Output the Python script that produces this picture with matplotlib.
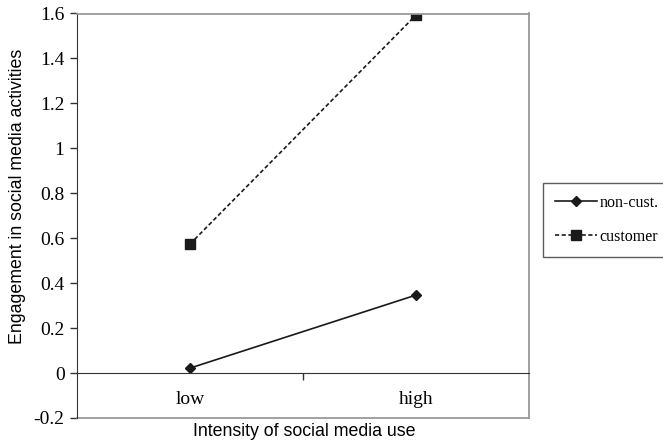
import matplotlib.pyplot as plt
from matplotlib.ticker import FixedLocator

categories = ['low', 'high']
non_cust = [0.022, 0.347]
customer = [0.574, 1.593]
y_ticks = [-0.2, 0, 0.2, 0.4, 0.6, 0.8, 1, 1.2, 1.4, 1.6]
y_tick_labels = ['-0.2', '0', '0.2', '0.4', '0.6', '0.8', '1', '1.2', '1.4', '1.6']

serif = 'Liberation Serif'
sans = 'Liberation Sans'

fig = plt.figure(figsize=(6.63, 4.43), dpi=100)
ax = fig.add_axes([77 / 663, 1 - 418 / 443, 452 / 663, 404.5 / 443])

xpos = [0.5, 1.5]
ax.plot(xpos, non_cust, color='#1a1a1a', lw=1.2, marker='D', ms=5.5,
        label='non-cust.')
ax.plot(xpos, customer, color='#1a1a1a', lw=1.2, ls=(0, (2.5, 1.5)),
        marker='s', ms=6.5, label='customer')

ax.set_xlim(0, 2)
ax.set_ylim(-0.2, 1.6)

# frame: gray on top/right/bottom, dark left spine, category axis at 0
for side in ['top', 'right']:
    ax.spines[side].set_color('#999999')
    ax.spines[side].set_linewidth(1.3)
ax.spines['left'].set_color('#333333')
ax.spines['bottom'].set_position(('data', 0))
ax.spines['bottom'].set_color('#333333')
ax.axhline(-0.2, color='#999999', lw=1.3, clip_on=False)

ax.set_yticks(y_ticks)
ax.set_yticklabels(y_tick_labels, fontfamily=serif, fontsize=14)
ax.tick_params(axis='y', direction='out', length=5, width=1, color='#333333',
               pad=4)

ax.set_xticks(xpos)
ax.set_xticklabels(categories, fontfamily=serif, fontsize=14)
ax.tick_params(axis='x', which='major', length=0, pad=13)
ax.xaxis.set_minor_locator(FixedLocator([1.0]))
ax.tick_params(axis='x', which='minor', direction='out', length=5,
               width=1, color='#333333')

fig.text(18 / 663, 1 - 196 / 443, 'Engagement in social media activities',
         fontfamily=sans, fontsize=12.8, rotation=90, ha='center', va='center')
fig.text(304 / 663, 1 - 432 / 443, 'Intensity of social media use',
         fontfamily=sans, fontsize=12.8, ha='center', va='center')

leg = ax.legend(loc='upper left', bbox_to_anchor=(543 / 663, 1 - 183 / 443),
                bbox_transform=fig.transFigure, frameon=True, fancybox=False,
                edgecolor='#333333', prop={'family': serif, 'size': 11.5},
                handlelength=2.65, handletextpad=0.15, labelspacing=1.1,
                borderpad=0.75, borderaxespad=0)
leg.get_frame().set_linewidth(1.0)

fig.savefig('out.png', dpi=100)
